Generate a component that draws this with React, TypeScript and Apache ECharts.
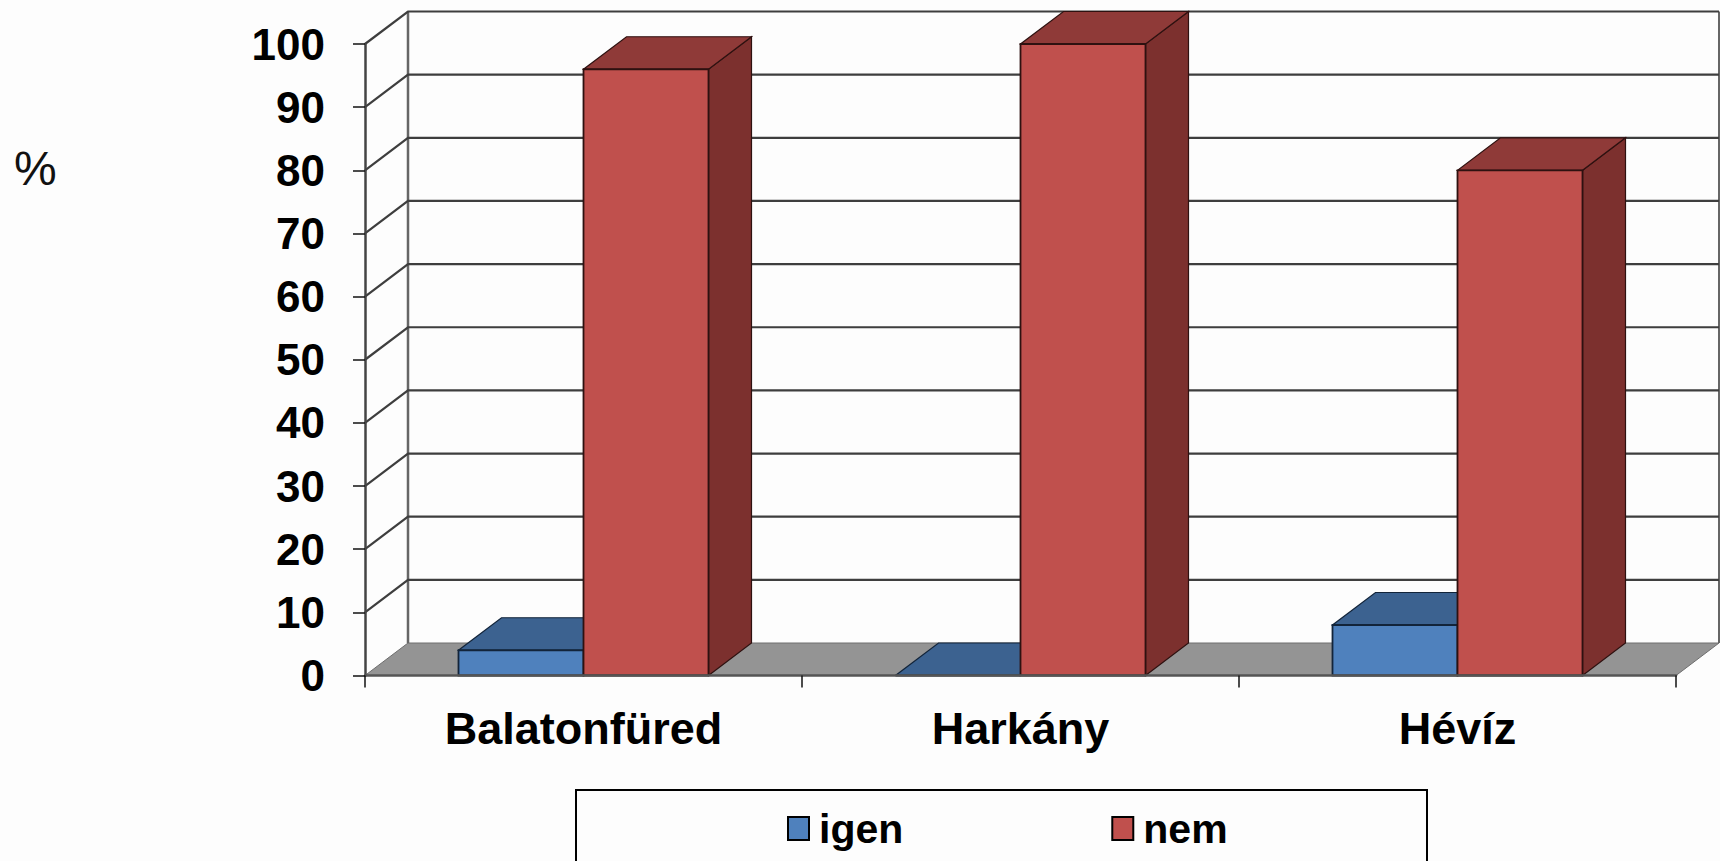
import React, { useEffect, useRef } from "react";
import * as echarts from "echarts";

const categories = ["Balatonfüred", "Harkány", "Hévíz"];
const igen = [4, 0, 8];
const nem = [96, 100, 80];
const yTicks = [0, 10, 20, 30, 40, 50, 60, 70, 80, 90, 100];

const DX = 43;
const DY = 32.5;
const FONT = '"Liberation Sans", Arial, sans-serif';
const BAR_RATIO = 125 / 437;

const wallItem = (params: any, api: any) => {
  const cs = params.coordSys;
  const left = cs.x;
  const right = cs.x + cs.width;
  const v = api.value(1);
  const y = api.coord([0, v])[1];
  const children: any[] = [];
  if (v === 0) {
    const yTop = api.coord([0, 100])[1];
    children.push({
      type: "polygon",
      shape: { points: [[left, y], [right, y], [right + DX, y - DY], [left + DX, y - DY]] },
      style: { fill: "#949494", stroke: "#6e6e6e", lineWidth: 1 },
    });
    children.push({
      type: "line",
      shape: { x1: left + DX, y1: y - DY, x2: left + DX, y2: yTop - DY },
      style: { stroke: "#666", lineWidth: 2.5, fill: "none" },
    });
    children.push({
      type: "line",
      shape: { x1: right + DX, y1: y - DY, x2: right + DX, y2: yTop - DY },
      style: { stroke: "#666", lineWidth: 2, fill: "none" },
    });
  } else {
    children.push({
      type: "polyline",
      shape: { points: [[left, y], [left + DX, y - DY], [right + DX, y - DY]] },
      style: { stroke: "#3e3e3e", lineWidth: 2.2, fill: "none" },
    });
  }
  return { type: "group", children };
};

const barItem = (side: number, front: string, top: string, flank: string, edge: string) => (params: any, api: any) => {
  const c = api.value(0);
  const p0 = api.coord([c, 0]);
  const p1 = api.coord([c, api.value(1)]);
  const w = api.size([1, 0])[0] * BAR_RATIO;
  const x1 = side < 0 ? p0[0] - w : p0[0];
  const x2 = x1 + w;
  const yb = p0[1];
  const yt = p1[1];
  const children: any[] = [
    {
      type: "polygon",
      shape: { points: [[x2, yb], [x2, yt], [x2 + DX, yt - DY], [x2 + DX, yb - DY]] },
      style: { fill: flank, stroke: edge, lineWidth: 1.2 },
    },
    {
      type: "polygon",
      shape: { points: [[x1, yt], [x2, yt], [x2 + DX, yt - DY], [x1 + DX, yt - DY]] },
      style: { fill: top, stroke: edge, lineWidth: 1.2 },
    },
    {
      type: "polygon",
      shape: { points: [[x1, yb], [x2, yb], [x2, yt], [x1, yt]] },
      style: { fill: front, stroke: edge, lineWidth: 1.8 },
    },
  ];
  return { type: "group", children };
};

export default function App() {
  const ref = useRef<HTMLDivElement>(null);
  useEffect(() => {
    const chart = echarts.init(ref.current!, undefined, { renderer: "svg" });
    chart.setOption({
      animation: false,
      backgroundColor: "#fdfdfd",
      grid: { left: 365, right: 44, top: 44, bottom: 185.5 },
      xAxis: {
        type: "category",
        data: categories,
        z: 5,
        axisLine: { lineStyle: { color: "#555", width: 2.5 } },
        axisTick: { show: true, length: 12, lineStyle: { color: "#111", width: 1.5 } },
        axisLabel: { color: "#000", fontFamily: FONT, fontWeight: "bold", fontSize: 45, margin: 30 },
      },
      yAxis: {
        type: "value",
        min: 0,
        max: 100,
        interval: 10,
        z: 5,
        splitLine: { show: false },
        axisLine: { show: true, lineStyle: { color: "#444", width: 2.5 } },
        axisTick: { show: true, length: 12, lineStyle: { color: "#111", width: 1.5 } },
        axisLabel: { color: "#000", fontFamily: FONT, fontWeight: "bold", fontSize: 44, margin: 40, padding: [0, 0, 4, 0] },
      },
      legend: {
        data: ["igen", "nem"],
        left: 787,
        top: 808,
        icon: "rect",
        itemWidth: 21,
        itemHeight: 23,
        itemGap: 208,
        padding: 0,
        itemStyle: { borderColor: "#000", borderWidth: 2 },
        textStyle: { color: "#000", fontFamily: FONT, fontWeight: "bold", fontSize: 41, padding: [0, 0, 0, 5] },
      },
      graphic: [
        {
          type: "rect",
          shape: { x: 576, y: 790, width: 851, height: 140 },
          style: { fill: "#fdfdfd", stroke: "#000", lineWidth: 2 },
          z: 1,
        },
        {
          type: "text",
          x: 14,
          y: 144,
          style: { text: "%", fill: "#111", font: `48px ${FONT}` },
        },
      ],
      series: [
        {
          name: "wall",
          type: "custom",
          z: 1,
          silent: true,
          renderItem: wallItem,
          encode: { x: 0, y: 1 },
          data: yTicks.map((v) => [0, v]),
        },
        {
          name: "igen",
          type: "custom",
          z: 2,
          itemStyle: { color: "#4F81BD" },
          renderItem: barItem(-1, "#4F81BD", "#3C6290", "#325278", "#12243a"),
          encode: { x: 0, y: 1 },
          data: igen.map((v, i) => [i, v]),
        },
        {
          name: "nem",
          type: "custom",
          z: 3,
          itemStyle: { color: "#C0504D" },
          renderItem: barItem(1, "#C0504D", "#8F3A38", "#7C302E", "#2e1110"),
          encode: { x: 0, y: 1 },
          data: nem.map((v, i) => [i, v]),
        },
      ],
    });
    return () => chart.dispose();
  }, []);
  return <div ref={ref} style={{ position: "fixed", left: 0, top: 0, width: 1720, height: 861 }} />;
}
